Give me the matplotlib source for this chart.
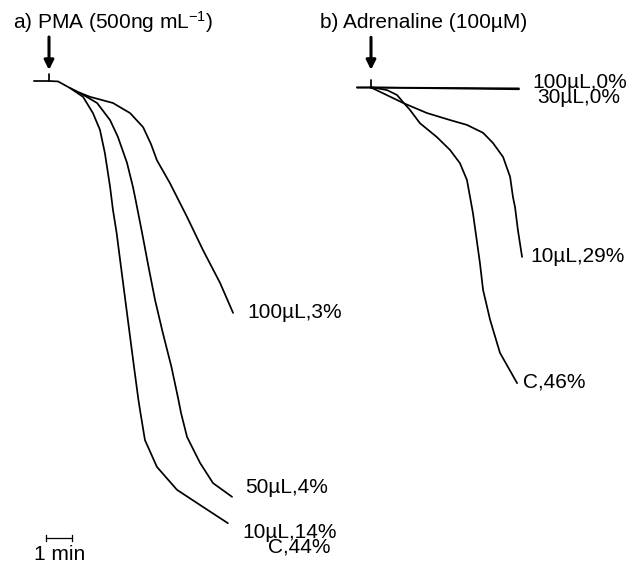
import matplotlib
matplotlib.use('Agg')
import matplotlib.pyplot as plt

plt.rcParams['font.family'] = ['Liberation Sans', 'DejaVu Sans']
plt.rcParams['mathtext.default'] = 'regular'

# time in min after addition (arrow = 0), deflection in arbitrary units (baseline = 0)
# a) PMA
pma_ctrl_t = [-0.58, 0, 0.35, 0.81, 1.31, 1.69, 1.96, 2.15, 2.35, 2.46, 2.60, 2.77, 2.90,
              3.10, 3.27, 3.44, 3.52, 3.69, 4.15, 4.92, 5.69, 6.88]
pma_ctrl_y = [0, 0, -0.1, -1.6, -3.6, -7.3, -11.1, -16.4, -24.1, -29.3, -34.5, -42.3, -48.2,
              -57.3, -65.0, -72.5, -75.5, -81.6, -87.7, -92.9, -95.9, -100.5]
pma_50_t = [0.81, 1.19, 1.85, 2.35, 2.65, 3.0, 3.23, 3.33, 3.58, 3.83, 4.08, 4.38, 4.71,
            4.98, 5.08, 5.31, 5.81, 6.31, 7.04]
pma_50_y = [-1.6, -2.7, -5.0, -8.9, -12.7, -18.6, -24.1, -27.0, -34.5, -42.3, -49.8, -57.3,
            -65.0, -72.5, -75.5, -80.9, -86.8, -91.4, -94.5]
pma_100_t = [1.19, 1.58, 2.46, 3.12, 3.62, 3.92, 4.15, 4.65, 5.31, 5.92, 6.58, 7.08]
pma_100_y = [-2.7, -3.6, -5.0, -7.3, -10.5, -14.3, -18.0, -23.2, -30.9, -38.4, -45.9, -52.7]

# b) Adrenaline
adr_flat_t = [-0.54, 0, 5.69]
adr_100_y = [0, 0, -0.2]
adr_30_y = [0, 0, -0.4]
adr_ctrl_t = [0, 0.08, 0.62, 1.0, 1.23, 1.5, 1.88, 2.54, 3.04, 3.42, 3.69, 3.81, 3.92,
              4.19, 4.31, 4.58, 4.96, 5.62]
adr_ctrl_y = [0, 0, -0.6, -1.7, -3.3, -5.1, -8.1, -11.3, -14.2, -17.2, -21.0, -24.9, -28.5,
              -39.9, -46.0, -52.8, -60.3, -67.2]
adr_10_t = [0, 0.46, 1.23, 2.15, 3.04, 3.69, 4.31, 4.69, 5.08, 5.35, 5.46, 5.54, 5.65, 5.81]
adr_10_y = [0, -1.3, -3.5, -5.8, -7.4, -8.5, -10.3, -12.6, -15.8, -20.3, -24.9, -27.2,
            -32.4, -38.5]

pma_labels = ['100µL,3%', '50µL,4%', '10µL,14%', 'C,44%']
pma_label_pos = [(7.62, -52.7), (7.54, -92.3), (7.42, -102.7), (8.42, -105.9)]
adr_labels = ['100µL,0%', '30µL,0%', '10µL,29%', 'C,46%']
adr_label_pos = [(6.19, 1.25), (6.38, -2.16), (6.12, -38.5), (5.85, -66.9)]

W, H = 634, 566
PX_MIN = 26.0   # pixels per minute
PX_Y = 4.4      # pixels per unit
FS = 15

fig = plt.figure(figsize=(W / 100, H / 100), dpi=100)
fig.patch.set_facecolor('white')


def make_ax(x0, x1, ox, oy):
    # axes covering pixels x0..x1, origin (time 0, baseline) at pixel ox, oy
    ax = fig.add_axes([x0 / W, 0, (x1 - x0) / W, 1])
    ax.set_xlim((x0 - ox) / PX_MIN, (x1 - ox) / PX_MIN)
    ax.set_ylim(-(H - oy) / PX_Y, oy / PX_Y)
    ax.axis('off')
    return ax


ax_a = make_ax(0, 317, 49, 81)
ax_b = make_ax(317, 634, 371, 87.5)

kw = dict(color='black', lw=1.25, solid_joinstyle='round', solid_capstyle='round')

ax_a.plot(pma_ctrl_t, pma_ctrl_y, **kw)
ax_a.plot(pma_50_t, pma_50_y, **kw)
ax_a.plot(pma_100_t, pma_100_y, **kw)

ax_b.plot(adr_flat_t, adr_100_y, **kw)
ax_b.plot(adr_flat_t, adr_30_y, **kw)
ax_b.plot(adr_ctrl_t, adr_ctrl_y, **kw)
ax_b.plot(adr_10_t, adr_10_y, **kw)

for ax, tip, tail, tick in [(ax_a, 2.5, 10.0, 1.6), (ax_b, 4.0, 11.4, 1.7)]:
    ax.plot([0, 0], [0, tick], **kw)
    ax.annotate('', xy=(0, tip), xytext=(0, tail),
                arrowprops=dict(arrowstyle='-|>', color='black', lw=2.2,
                                mutation_scale=14, shrinkA=0, shrinkB=0))

for lab, (x, y) in zip(pma_labels, pma_label_pos):
    ax_a.text(x, y, lab, fontsize=FS, ha='left', va='center')
for lab, (x, y) in zip(adr_labels, adr_label_pos):
    ax_b.text(x, y, lab, fontsize=FS, ha='left', va='center')

# 1 min scale bar
ax_a.plot([-0.115, 0.885], [-103.9, -103.9], color='black', lw=0.9)
for x in [-0.115, 0.885]:
    ax_a.plot([x, x], [-103.2, -104.6], color='black', lw=0.9)
ax_a.text(0.42, -107.7, '1 min', fontsize=FS, ha='center', va='center')

fig.text(13 / W, 1 - 22 / H, 'a) PMA (500ng mL$^{-1}$)', fontsize=FS, ha='left', va='center')
fig.text(320 / W, 1 - 22 / H, 'b) Adrenaline (100µM)', fontsize=FS, ha='left', va='center')

fig.savefig('out.png', dpi=100, facecolor='white')
